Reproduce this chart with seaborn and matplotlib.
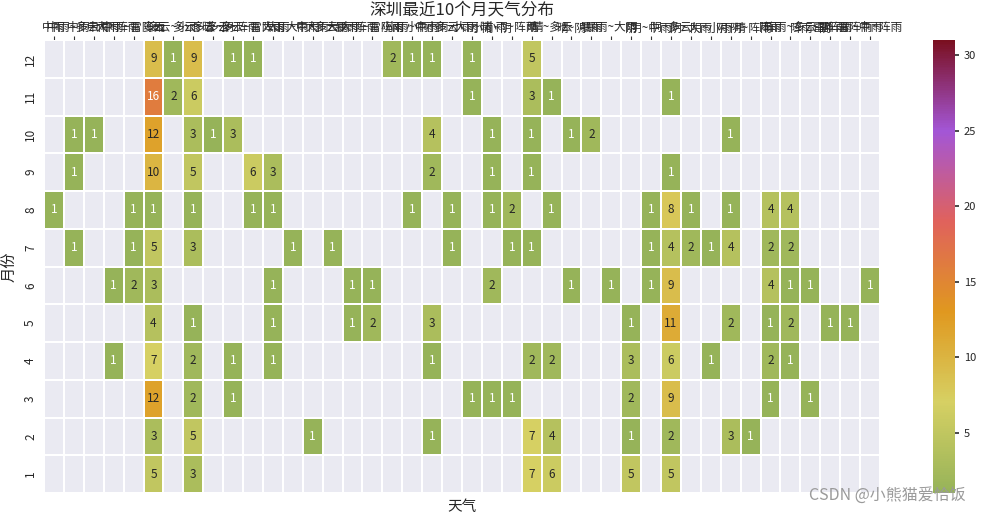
import numpy as np
import pandas as pd
import matplotlib
matplotlib.use("Agg")
import matplotlib.pyplot as plt
from matplotlib.colors import LinearSegmentedColormap, ListedColormap
import seaborn as sns

_ = None

weather = ["中雨", "中雨~多云", "中雨~大雨", "中雨~阵雨", "中雨~雷阵雨",
           "多云", "多云~小雨", "多云~晴", "多云~阴", "多云~阵雨", "多云~雷阵雨",
           "大雨", "大雨~中雨", "大雨~多云", "大雨~暴雨", "大雨~阵雨", "大雨~雷阵雨",
           "小雨", "小雨~中雨", "小雨~多云", "小雨~大雨", "小雨~晴", "小雨~阴", "小雨~阵雨",
           "晴", "晴~多云", "晴~阴", "暴雨", "暴雨~大雨",
           "阴", "阴~中雨", "阴~多云", "阴~大雨", "阴~小雨", "阴~晴", "阴~阵雨",
           "阵雨", "阵雨~多云", "阵雨~阴", "雷阵雨", "雷阵雨~中雨", "雷阵雨~阵雨"]

months = [12, 11, 10, 9, 8, 7, 6, 5, 4, 3, 2, 1]

m12 = [_, _, _, _, _, 9, 1, 9, _, 1,   1, _, _, _, _, _, _, 2, 1, 1,
       _, 1, _, _, 5, _, _, _, _, _,   _, _, _, _, _, _, _, _, _, _, _, _]
m11 = [_, _, _, _, _, 16, 2, 6, _, _,  _, _, _, _, _, _, _, _, _, _,
       _, 1, _, _, 3, 1, _, _, _, _,   _, 1, _, _, _, _, _, _, _, _, _, _]
m10 = [_, 1, 1, _, _, 12, _, 3, 1, 3,  _, _, _, _, _, _, _, _, _, 4,
       _, _, 1, _, 1, _, 1, 2, _, _,   _, _, _, _, 1, _, _, _, _, _, _, _]
m9 = [_, 1, _, _, _, 10, _, 5, _, _,   6, 3, _, _, _, _, _, _, _, 2,
      _, _, 1, _, 1, _, _, _, _, _,    _, 1, _, _, _, _, _, _, _, _, _, _]
m8 = [1, _, _, _, 1, 1, _, 1, _, _,    1, 1, _, _, _, _, _, _, 1, _,
      1, _, 1, 2, _, 1, _, _, _, _,    1, 8, 1, _, 1, _, 4, 4, _, _, _, _]
m7 = [_, 1, _, _, 1, 5, _, 3, _, _,    _, _, 1, _, 1, _, _, _, _, _,
      1, _, _, 1, 1, _, _, _, _, _,    1, 4, 2, 1, 4, _, 2, 2, _, _, _, _]
m6 = [_, _, _, 1, 2, 3, _, _, _, _,    _, 1, _, _, _, 1, 1, _, _, _,
      _, _, 2, _, _, _, 1, _, 1, _,    1, 9, _, _, _, _, 4, 1, 1, _, _, 1]
m5 = [_, _, _, _, _, 4, _, 1, _, _,    _, 1, _, _, _, 1, 2, _, _, 3,
      _, _, _, _, _, _, _, _, _, 1,    _, 11, _, _, 2, _, 1, 2, _, 1, 1, _]
m4 = [_, _, _, 1, _, 7, _, 2, _, 1,    _, 1, _, _, _, _, _, _, _, 1,
      _, _, _, _, 2, 2, _, _, _, 3,    _, 6, _, 1, _, _, 2, 1, _, _, _, _]
m3 = [_, _, _, _, _, 12, _, 2, _, 1,   _, _, _, _, _, _, _, _, _, _,
      _, 1, 1, 1, _, _, _, _, _, 2,    _, 9, _, _, _, _, 1, _, 1, _, _, _]
m2 = [_, _, _, _, _, 3, _, 5, _, _,    _, _, _, 1, _, _, _, _, _, 1,
      _, _, _, _, 7, 4, _, _, _, 1,    _, 2, _, _, 3, 1, _, _, _, _, _, _]
m1 = [_, _, _, _, _, 5, _, 3, _, _,    _, _, _, _, _, _, _, _, _, _,
      _, _, _, _, 7, 6, _, _, _, 5,    _, 5, _, _, _, _, _, _, _, _, _, _]

rows = [m12, m11, m10, m9, m8, m7, m6, m5, m4, m3, m2, m1]
df = pd.DataFrame([[np.nan if v is None else v for v in r] for r in rows],
                  index=months, columns=weather)

sns.set_theme(style="white")
plt.rcParams['font.family'] = ['Noto Sans CJK SC', 'DejaVu Sans']
plt.rcParams['axes.unicode_minus'] = False

fig = plt.figure(figsize=(9.82, 5.15), dpi=100)
ax = fig.add_axes([44/982, 1-493/515, 836/982, 453/515])
cax = fig.add_axes([933/982, 1-493/515, 22/982, 453/515])

cmap = LinearSegmentedColormap.from_list(
    "wx", ["#96b359", "#d6d063", "#e0981f", "#e0625c", "#a356d6", "#7a1020"])

bg = pd.DataFrame(np.zeros(df.shape), index=df.index, columns=df.columns)
sns.heatmap(bg, ax=ax, cmap=ListedColormap(["#EAEAF2"]), cbar=False,
            linewidths=1.2, linecolor="white")
sns.heatmap(df, ax=ax, cmap=cmap, vmin=1, vmax=31, annot=True, fmt=".0f",
            annot_kws={"size": 8.5}, linewidths=1.2, linecolor="white",
            cbar_ax=cax, cbar_kws={"ticks": [5, 10, 15, 20, 25, 30]})

ax.xaxis.tick_top()
ax.set_xticklabels(weather, rotation=0, fontsize=8.5)
ax.set_yticklabels([str(m) for m in months], rotation=90, fontsize=8.5, va="center")
ax.tick_params(axis="x", length=3, width=0.8, color="#333333", pad=1)
ax.tick_params(axis="y", length=0, pad=5)
ax.set_xlabel("天气", fontsize=10.5, labelpad=5)
ax.set_ylabel("月份", fontsize=11, labelpad=4)
ax.set_title("深圳最近10个月天气分布", fontsize=12, pad=5)
ax.grid(False)

cax.tick_params(labelsize=8, length=3, color="#333333")
for sp in cax.spines.values():
    sp.set_visible(False)

fig.text(0.983, 0.022, "CSDN @小熊猫爱恰饭", ha="right", va="bottom",
         fontsize=11.5, color="#9a9a9a")

fig.savefig("out.png", dpi=100)
